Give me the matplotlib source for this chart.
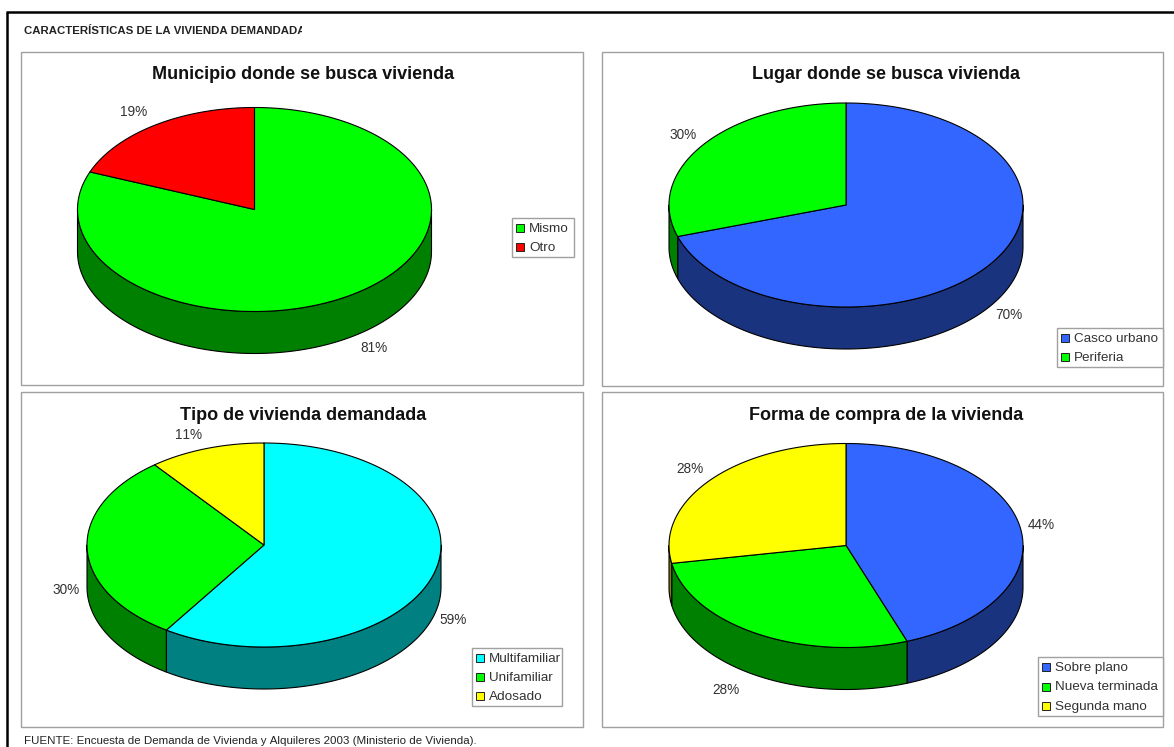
import matplotlib
matplotlib.use('Agg')
import matplotlib.pyplot as plt
import numpy as np
from matplotlib.patches import Polygon, Rectangle

plt.rcParams['font.family'] = ['Liberation Sans', 'DejaVu Sans']
plt.rcParams['text.kerning_factor'] = 6

# data
titles = ['Municipio donde se busca vivienda', 'Lugar donde se busca vivienda',
          'Tipo de vivienda demandada', 'Forma de compra de la vivienda']
labels_mun = ['Mismo', 'Otro']
values_mun = [81, 19]
labels_lug = ['Casco urbano', 'Periferia']
values_lug = [70, 30]
labels_tipo = ['Multifamiliar', 'Unifamiliar', 'Adosado']
values_tipo = [59.3, 30.1, 10.6]
labels_forma = ['Sobre plano', 'Nueva terminada', 'Segunda mano']
values_forma = [44.4, 27.8, 27.8]

BLUE = ('#3366ff', '#1a337f')
GREEN = ('#00ff00', '#008000')
RED = ('#ff0000', '#800000')
CYAN = ('#00ffff', '#008080')
YELLOW = ('#ffff00', '#808000')

# layout, in pixels of the page: panel box, pie centre, title x/y, legend box, label spots
panels = [
    dict(box=(21, 52, 583, 385), c=(254.5, 209.5), ty=74.5, tx=303.5, leg=(512, 218, 574, 257),
         spots=[(374, 348), (134, 112)], colors=[GREEN, RED],
         labels=labels_mun, values=values_mun, title=titles[0]),
    dict(box=(602, 52, 1163, 386), c=(846, 205), ty=74.5, tx=885.5, leg=(1057, 328, 1163, 367),
         spots=[(1009, 315), (683, 135)], colors=[BLUE, GREEN],
         labels=labels_lug, values=values_lug, title=titles[1]),
    dict(box=(21, 392, 583, 727), c=(264, 545), ty=415, tx=303.5, leg=(472, 648, 562, 706),
         spots=[(453, 620), (66, 590), (189, 435)], colors=[CYAN, GREEN, YELLOW],
         labels=labels_tipo, values=values_tipo, title=titles[2]),
    dict(box=(602, 392, 1163, 727), c=(846, 545.5), ty=415, tx=886, leg=(1038, 657, 1163, 716),
         spots=[(1041, 525), (726, 690), (690, 469)], colors=[BLUE, GREEN, YELLOW],
         labels=labels_forma, values=values_forma, title=titles[3]),
]
RX, RY, DEPTH = 177, 102, 42


def arc(c, a0, a1, n=120, dy=0):
    t = np.radians(np.linspace(a0, a1, n))
    return np.column_stack([c[0] + RX * np.sin(t), c[1] - RY * np.cos(t) + dy])


def draw_pie(ax, p):
    c = p['c']
    edges = np.cumsum([0] + p['values']) / sum(p['values']) * 360
    # front wall first, only the 90-270 part can be seen
    for i in range(len(p['values'])):
        a0, a1 = max(edges[i], 90), min(edges[i + 1], 270)
        if a1 > a0:
            top = arc(c, a0, a1)
            bot = arc(c, a0, a1, dy=DEPTH)
            ax.add_patch(Polygon(np.vstack([top, bot[::-1]]), fc=p['colors'][i][1],
                                 ec='black', lw=0.8, joinstyle='round'))
    for i in range(len(p['values'])):
        pts = np.vstack([[c], arc(c, edges[i], edges[i + 1], n=240)])
        ax.add_patch(Polygon(pts, fc=p['colors'][i][0], ec='black', lw=0.8, joinstyle='round'))


fig = plt.figure(figsize=(11.74, 7.47), dpi=100)
ax = fig.add_axes([0, 0, 1, 1])
ax.set_xlim(0, 1174)
ax.set_ylim(747, 0)
ax.axis('off')

# black page frame
ax.plot([7, 7], [747, 11.5], color='black', lw=1.8, solid_capstyle='butt')
ax.plot([6, 1174], [11.5, 11.5], color='black', lw=1.8, solid_capstyle='butt')

head = ax.text(24, 31, 'CARACTERÍSTICAS DE LA VIVIENDA DEMANDADA', fontsize=8.2, fontweight='bold',
               color='#222222', va='center', ha='left')
head.set_clip_path(Rectangle((20, 20), 282, 22, transform=ax.transData))
head.set_clip_on(True)

for p in panels:
    x0, y0, x1, y1 = p['box']
    ax.add_patch(Rectangle((x0, y0), x1 - x0, y1 - y0, fc='white', ec='#a0a0a0', lw=1))
    ax.text(p['tx'], p['ty'], p['title'], fontsize=13, fontweight='bold', color='#111111',
            ha='center', va='center')
    draw_pie(ax, p)
    for v, (sx, sy) in zip(p['values'], p['spots']):
        ax.text(sx, sy, f'{round(v)}%', fontsize=9.8, color='#333333', ha='center', va='center')
    lx0, ly0, lx1, ly1 = p['leg']
    ax.add_patch(Rectangle((lx0, ly0), lx1 - lx0, ly1 - ly0, fc='white', ec='#a0a0a0', lw=1))
    n = len(p['labels'])
    step = (ly1 - ly0) / n
    for i, lab in enumerate(p['labels']):
        yy = ly0 + step * (i + 0.5)
        ax.add_patch(Rectangle((lx0 + 4, yy - 4), 8, 8, fc=p['colors'][i][0], ec='#222222', lw=0.7))
        ax.text(lx0 + 17, yy + 1, lab, fontsize=9.7, color='#333333', ha='left', va='center')

ax.text(24, 741, 'FUENTE: Encuesta de Demanda de Vivienda y Alquileres 2003 (Ministerio de Vivienda).',
        fontsize=8.25, color='#222222', ha='left', va='center')

fig.savefig('out.png', dpi=100)
